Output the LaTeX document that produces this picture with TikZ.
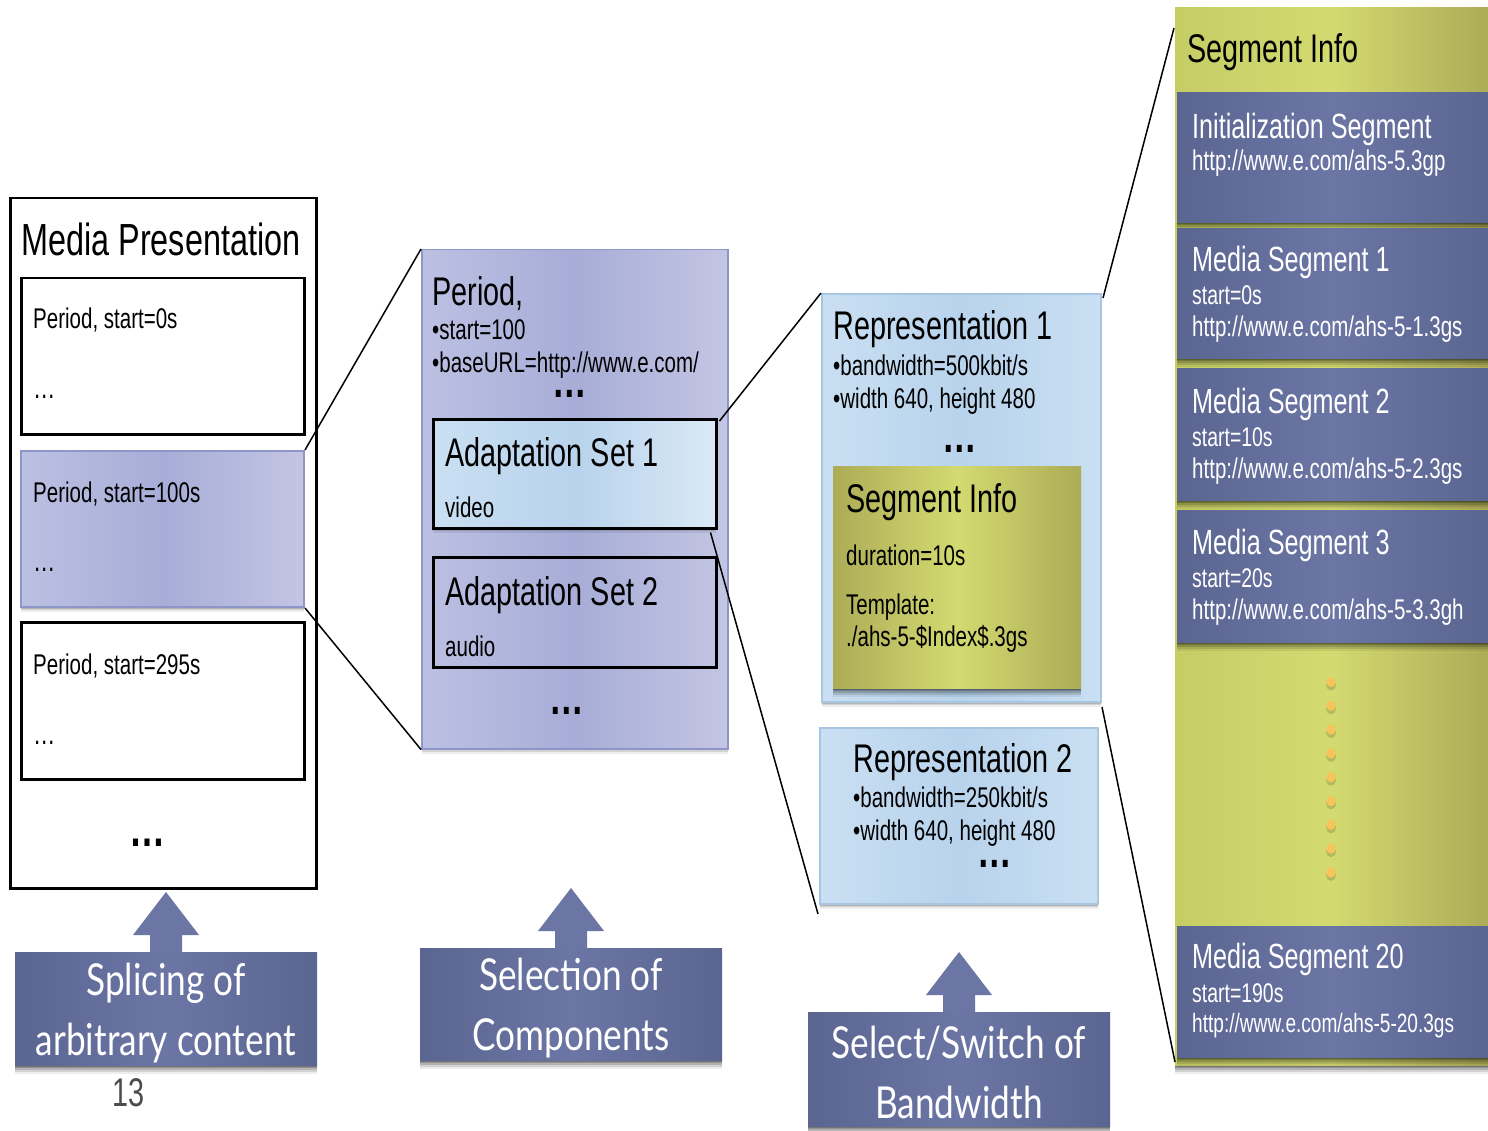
\documentclass[tikz,border=0pt]{standalone}
\usepackage{fontspec}
\setmainfont[FakeStretch=0.72]{Liberation Sans}
\newfontfamily\callfont[FakeStretch=0.8]{Lato}
\usetikzlibrary{shadows,calc}
\newcommand{\setfs}[1]{\fontsize{#1}{#1}\selectfont}
\definecolor{lavA}{HTML}{BCC0E2}
\definecolor{lavB}{HTML}{A7ADD7}
\definecolor{lavC}{HTML}{C3C5E3}
\definecolor{lavBorder}{HTML}{8E95C7}
\definecolor{blueA}{HTML}{CADFF2}
\definecolor{blueB}{HTML}{B8D3EC}
\definecolor{repBorder}{HTML}{A7C6E2}
\definecolor{oliveA}{HTML}{D3DA70}
\definecolor{oliveB}{HTML}{ADAC57}
\definecolor{oliveC}{HTML}{C6CD65}
\definecolor{slateM}{HTML}{6C76A5}
\definecolor{slateE}{HTML}{5B6591}
\definecolor{dotc}{HTML}{F5C45A}
\begin{document}
\begin{tikzpicture}[x=1pt,y=-1pt]
\tikzset{
  bbox/.style={draw=black, line width=2.5pt, anchor=north west, inner sep=0pt, fill=white},
  t/.style={anchor=base west, inner sep=0pt, text=black},
  tw/.style={anchor=base west, inner sep=0pt, text=white},
  dots/.style={anchor=base, inner sep=0pt, text height=8pt, text depth=0pt, font=\bfseries\setfs{48}},
  conn/.style={line width=1.5pt, draw=black},
  softshadow/.style={
    general shadow={fill=black, opacity=0.2, shadow xshift=0pt, shadow yshift=-1.5pt},
    general shadow={fill=black, opacity=0.18, shadow xshift=0pt, shadow yshift=-3pt},
    general shadow={fill=black, opacity=0.15, shadow xshift=0pt, shadow yshift=-5pt},
    general shadow={fill=black, opacity=0.11, shadow xshift=0pt, shadow yshift=-7pt},
    general shadow={fill=black, opacity=0.07, shadow xshift=0pt, shadow yshift=-9pt}},
  lightshadow/.style={
    general shadow={fill=black, opacity=0.14, shadow xshift=0pt, shadow yshift=-1.5pt},
    general shadow={fill=black, opacity=0.11, shadow xshift=0pt, shadow yshift=-3pt},
    general shadow={fill=black, opacity=0.07, shadow xshift=0pt, shadow yshift=-5pt}},
  lavbox/.style={draw=lavBorder, line width=1.5pt, anchor=north west, inner sep=0pt,
    left color=lavA, right color=lavC, middle color=lavB},
  repbox/.style={draw=repBorder, line width=2pt, anchor=north west, inner sep=0pt,
    left color=blueA, right color=blueA, middle color=blueB, lightshadow},
  olivebox/.style={anchor=north west, inner sep=0pt,
    left color=oliveB, right color=oliveB, middle color=oliveA, softshadow},
  blueblk/.style={anchor=north west, inner sep=0pt, minimum width=311pt,
    left color=slateE, right color=slateE, middle color=slateM, softshadow},
  callout/.style={inner sep=0pt, minimum width=302pt, minimum height=113pt,
    left color=slateE, right color=slateE, middle color=slateM, softshadow},
  callouttext/.style={inner sep=0pt, text=white, align=center,
    font=\callfont\fontsize{44}{60}\selectfont},
  callarrow/.style={fill=slateM},
}
\fill[white] (0,0) rectangle (1488,1131);
\useasboundingbox (0,0) rectangle (1488,1131);

% ---------- Media Presentation ----------
\node[bbox, minimum width=306pt, minimum height=690pt] (mp) at (9,197) {};
\node[t, font=\setfs{45}] (mptitle) at (21,256) {Media Presentation};
\node[bbox, minimum width=283pt, minimum height=156pt] (p0) at (20,277) {};
\node[t, font=\setfs{28.5}] (p0t) at (33,329) {Period, start=0s};
\node[t, font=\setfs{31}] (p0d) at (33,398) {…};
\node[lavbox, line width=2pt, minimum width=283pt, minimum height=156pt, lightshadow] (p100) at (20,450) {};
\node[t, font=\setfs{28.5}] (p100t) at (33,502) {Period, start=100s};
\node[t, font=\setfs{31}] (p100d) at (33,571) {…};
\node[bbox, minimum width=283pt, minimum height=157pt] (p295) at (20,621) {};
\node[t, font=\setfs{28.5}] (p295t) at (33,674) {Period, start=295s};
\node[t, font=\setfs{31}] (p295d) at (33,744) {…};
\node[dots, font=\bfseries\setfs{50}] (mpd) at (147,846) {…};

% ---------- Period ----------
\node[lavbox, minimum width=306pt, minimum height=499pt, lightshadow] (period) at (421,249) {};
\node[t, font=\setfs{40}] (pert) at (432,306) {Period,};
\node[t, font=\setfs{28.5}] (per1) at (432,340) {•start=100};
\node[t, font=\setfs{28.5}] (per2) at (432,373) {•baseURL=http://www.e.com/};
\node[dots] (perd) at (570,397) {…};
\node[bbox, left color=blueA, right color=blueA!70!white, middle color=blueB, minimum width=283pt, minimum height=109pt, lightshadow] (as1) at (432,418) {};
\node[t, font=\setfs{40}] (as1t) at (445,466) {Adaptation Set 1};
\node[t, font=\setfs{28.5}] (as1s) at (445,517) {video};
\node[bbox, fill=none, minimum width=283pt, minimum height=110pt] (as2) at (432,556) {};
\node[t, font=\setfs{40}] (as2t) at (445,605) {Adaptation Set 2};
\node[t, font=\setfs{28.5}] (as2s) at (445,656) {audio};
\node[dots] (perd2) at (567,714) {…};

% ---------- Representations ----------
\node[repbox, minimum width=279pt, minimum height=408pt] (rep1) at (821,293) {};
\node[t, font=\setfs{40}] (rep1t) at (833,340) {Representation 1};
\node[t, font=\setfs{28.5}] (rep1a) at (833,375) {•bandwidth=500kbit/s};
\node[t, font=\setfs{28.5}] (rep1b) at (833,408) {•width 640, height 480};
\node[dots] (rep1d) at (960,452) {…};
\node[olivebox, minimum width=248pt, minimum height=222pt] (seg) at (833,466) {};
\node[t, font=\setfs{40}] (segt) at (846,512) {Segment Info};
\node[t, font=\setfs{28.5}] (seg1) at (846,565) {duration=10s};
\node[t, font=\setfs{28.5}] (seg2) at (846,614) {Template:};
\node[t, font=\setfs{28.5}] (seg3) at (846,646) {./ahs-5-\$Index\$.3gs};
\node[repbox, minimum width=278pt, minimum height=176pt] (rep2) at (819,727) {};
\node[t, font=\setfs{40}] (rep2t) at (853,772) {Representation 2};
\node[t, font=\setfs{28.5}] (rep2a) at (853,807) {•bandwidth=250kbit/s};
\node[t, font=\setfs{28.5}] (rep2b) at (853,840) {•width 640, height 480};
\node[dots] (rep2d) at (995,867) {…};

% ---------- Segment column ----------
\node[anchor=north west, inner sep=0pt, minimum width=313pt, minimum height=1058pt,
  left color=oliveC, right color=oliveB, middle color=oliveA, softshadow] (col) at (1175,7) {};
\node[t, font=\setfs{40}] (colt) at (1187,63) {Segment Info};
\node[blueblk, minimum height=130pt] (init) at (1177,92) {};
\node[tw, font=\setfs{35}] (initt) at (1192,139) {Initialization Segment};
\node[tw, font=\setfs{28.5}] (initu) at (1192,171) {http://www.e.com/ahs-5.3gp};
\node[blueblk, minimum height=130pt] (ms1) at (1177,228) {};
\node[tw, font=\setfs{35}] (ms1t) at (1192,272) {Media Segment 1};
\node[tw, font=\setfs{27}] (ms1s) at (1192,305) {start=0s};
\node[tw, font=\setfs{28.5}] (ms1u) at (1192,337) {http://www.e.com/ahs-5-1.3gs};
\node[blueblk, minimum height=132pt] (ms2) at (1177,368) {};
\node[tw, font=\setfs{35}] (ms2t) at (1192,413) {Media Segment 2};
\node[tw, font=\setfs{27}] (ms2s) at (1192,446) {start=10s};
\node[tw, font=\setfs{28.5}] (ms2u) at (1192,478) {http://www.e.com/ahs-5-2.3gs};
\node[blueblk, minimum height=132pt] (ms3) at (1177,510) {};
\node[tw, font=\setfs{35}] (ms3t) at (1192,554) {Media Segment 3};
\node[tw, font=\setfs{27}] (ms3s) at (1192,587) {start=20s};
\node[tw, font=\setfs{28.5}] (ms3u) at (1192,619) {http://www.e.com/ahs-5-3.3gh};
\foreach \k in {0,...,8} {
  \fill[black, opacity=0.15] (1331,685+23.8*\k) ellipse (5pt and 5.5pt);
  \fill[dotc] (1331,682+23.8*\k) ellipse (4.6pt and 5.2pt);
}
\node[blueblk, minimum height=131pt] (ms20) at (1177,926) {};
\node[tw, font=\setfs{35}] (ms20t) at (1192,968) {Media Segment 20};
\node[tw, font=\setfs{27}] (ms20s) at (1192,1002) {start=190s};
\node[tw, font=\setfs{26.5}] (ms20u) at (1192,1032) {http://www.e.com/ahs-5-20.3gs};

% ---------- Connectors ----------
\coordinate (ctop) at (1174,28);
\coordinate (cbot) at (1175,1062);
\draw[conn] (p100.north east) -- (period.north west);
\draw[conn] (p100.south east) -- (period.south west);
\draw[conn] ($(as1.north east)+(2,3)$) -- (rep1.north west);
\draw[conn] ($(as1.south east)+(-7,3)$) -- ($(rep2.south west)+(-1,9)$);
\draw[conn] ($(rep1.north east)+(1,5)$) -- (ctop);
\draw[conn] ($(rep1.south east)+(0,4)$) -- (cbot);

% ---------- Callouts ----------
\coordinate (a1) at (166,952);
\fill[callarrow] ($(a1)+(-16,1)$) -- ++(0,-18) -- ++(-17,0) -- ($(a1)+(0,-60)$) -- ($(a1)+(33,-17)$) -- ++(-17,0) -- ++(0,18) -- cycle;
\node[callout] (c1) at (166,1008.5) {};
\node[callouttext] (c1t) at ($(c1)+(0,5)$) {Splicing of\\arbitrary content};
\coordinate (a2) at (571,948);
\fill[callarrow] ($(a2)+(-16,1)$) -- ++(0,-18) -- ++(-17,0) -- ($(a2)+(0,-60)$) -- ($(a2)+(33,-17)$) -- ++(-17,0) -- ++(0,18) -- cycle;
\node[callout, minimum height=112pt] (c2) at (571,1004) {};
\node[callouttext] (c2t) at ($(c2)+(0,4)$) {Selection of\\Components};
\coordinate (a3) at (959,1012);
\fill[callarrow] ($(a3)+(-16,1)$) -- ++(0,-18) -- ++(-17,0) -- ($(a3)+(0,-60)$) -- ($(a3)+(33,-17)$) -- ++(-17,0) -- ++(0,18) -- cycle;
\node[callout, minimum height=114pt] (c3) at (959,1069) {};
\node[callouttext] (c3t) at ($(c3)+(0,3)$) {Select/Switch of\\Bandwidth};
\node[t, text=black!70, font=\setfs{40}] (pg) at (112,1106) {13};
\end{tikzpicture}
\end{document}
